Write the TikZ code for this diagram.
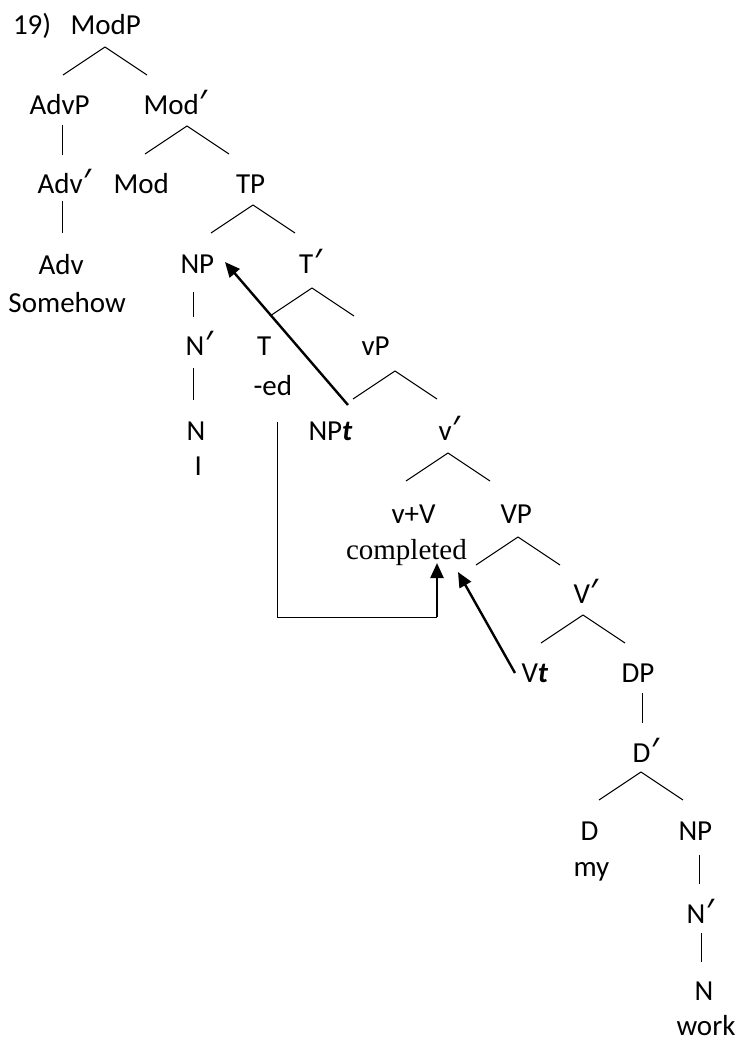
\documentclass[tikz,border=0pt]{standalone}
\usepackage{fontspec}
\setmainfont{Carlito}
\newfontfamily\wordserif{Liberation Serif}
\newfontfamily\primefont{Noto Sans}
\newcommand\barmark{{\primefont\fontsize{34}{30}\selectfont\kern1pt′}}
\usetikzlibrary{arrows.meta}
\begin{document}
\begin{tikzpicture}[x=1pt,y=-1pt,
  lbl/.style={anchor=base west,inner sep=0pt,outer sep=0pt,font=\fontsize{29}{34}\selectfont},
  branch/.style={line width=1pt},
  link/.style={line width=1pt},
  move/.style={line width=2.4pt,-{Triangle[length=15pt,width=13pt]}},
  ]
\useasboundingbox (0,0) rectangle (741,1041);

% ---- labels ----
\node[lbl] (num)   at (13,35)    {19)};
\node[lbl] (modp)  at (70.5,35)  {ModP};
\node[lbl] (advp)  at (29.5,114) {AdvP};
\node[lbl] (modb)  at (143.5,114) {Mod\barmark};
\node[lbl] (advb)  at (37.5,193) {Adv\barmark};
\node[lbl] (mod)   at (113.5,193) {Mod};
\node[lbl] (tp)    at (236,193)  {TP};
\node[lbl] (adv)   at (38.5,274) {Adv};
\node[lbl] (some)  at (8.5,312)  {Somehow};
\node[lbl] (np)    at (180.5,273) {NP};
\node[lbl] (tb)    at (299,273)  {T\barmark};
\node[lbl] (nb)    at (185.5,355) {N\barmark};
\node[lbl] (t)     at (257,355)  {T};
\node[lbl] (vp)    at (361.5,355) {vP};
\node[lbl] (ed)    at (253.5,395) {-ed};
\node[lbl] (n)     at (186.5,440) {N};
\node[lbl] (npt)   at (308.5,440) {NP\textbf{\textit{t}}};
\node[lbl] (vb)    at (438.5,440) {v\barmark};
\node[lbl] (i)     at (194.5,475) {I};
\node[lbl] (vv)    at (391.5,523) {v+V};
\node[lbl] (bigvp) at (500.5,523) {VP};
\node[lbl,font=\wordserif\fontsize{29}{34}\selectfont] (compl) at (346,559) {completed};
\node[lbl] (bigvb) at (573.5,603) {V\barmark};
\node[lbl] (vt)    at (521.5,682) {V\textbf{\textit{t}}};
\node[lbl] (dp)    at (621.5,682) {DP};
\node[lbl] (db)    at (632.5,762) {D\barmark};
\node[lbl] (d)     at (580.5,840) {D};
\node[lbl] (np2)   at (678.5,840) {NP};
\node[lbl] (my)    at (573.5,876) {my};
\node[lbl] (nb2)   at (686.5,923) {N\barmark};
\node[lbl] (n2)    at (694.5,1000) {N};
\node[lbl] (work)  at (676.5,1035) {work};

% ---- branching points ----
\coordinate (modp-fork)  at (105,47);
\coordinate (modb-fork)  at (187,126);
\coordinate (tp-fork)    at (253,205);
\coordinate (tb-fork)    at (312,288);
\coordinate (vp-fork)    at (395,371);
\coordinate (vb-fork)    at (448,453);
\coordinate (bigvp-fork) at (518,537);
\coordinate (bigvb-fork) at (583,615);
\coordinate (db-fork)    at (641,772);
\foreach \f in {modp-fork,modb-fork,tp-fork,tb-fork,vp-fork,vb-fork,bigvp-fork,bigvb-fork,db-fork}
  \draw[branch] (\f) -- ++(-42,28) (\f) -- ++(42,28);

% ---- unary stems ----
\coordinate (advp-stem) at (62,125);
\coordinate (advb-stem) at (62,201);
\coordinate (np-stem)   at (193,292);
\coordinate (nb-stem)   at (193,368);
\coordinate (dp-stem)   at (642,693);
\coordinate (np2-stem)  at (699,855);
\coordinate (nb2-stem)  at (701,933);
\draw[branch] (advp-stem) -- ++(0,30);
\draw[branch] (advb-stem) -- ++(0,32);
\draw[branch] (np-stem)   -- ++(0,25);
\draw[branch] (nb-stem)   -- ++(0,32);
\draw[branch] (dp-stem)   -- ++(0,30);
\draw[branch] (np2-stem)  -- ++(0,29);
\draw[branch] (nb2-stem)  -- ++(0,29);

% ---- movement ----
\coordinate (npt-from) at (348,405);
\coordinate (np-to)    at (225,262);
\draw[move] (npt-from) -- (np-to);

\coordinate (t-from)   at (277,422);
\coordinate (t-corner) at (277,617);
\coordinate (t-join)   at (437,617);
\coordinate (t-to)     at (437,563);
\draw[link] (t-from) -- (t-corner) -- (t-join);
\draw[move] (t-join) -- (t-to);

\coordinate (vt-from) at (515,673);
\coordinate (vt-to)   at (458,572);
\draw[move] (vt-from) -- (vt-to);
\end{tikzpicture}
\end{document}
